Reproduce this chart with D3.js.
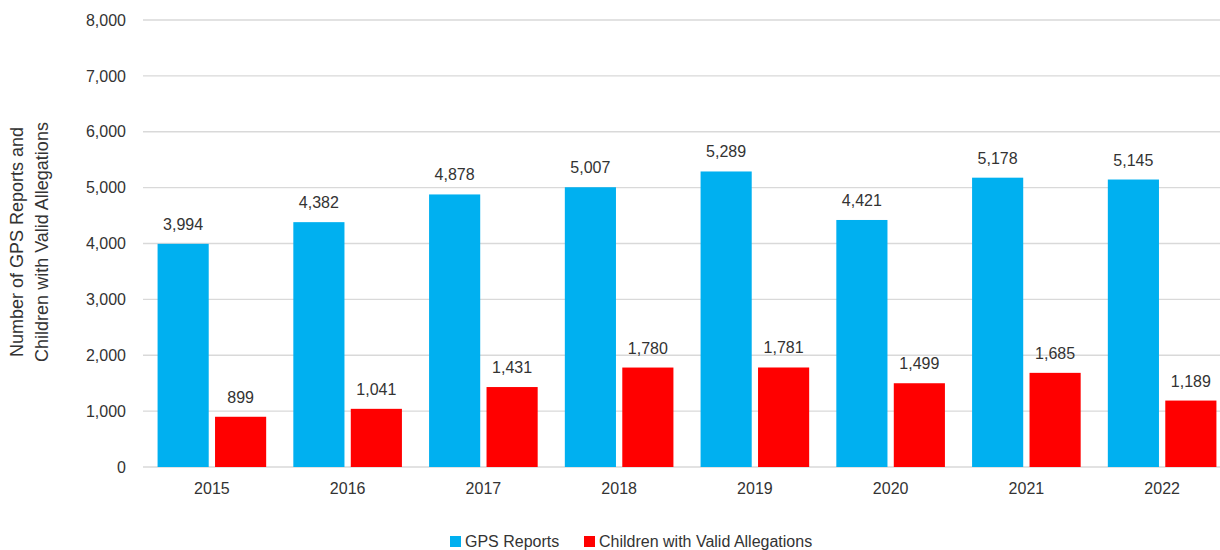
<!DOCTYPE html>
<html>
<head>
<meta charset="utf-8">
<script src="https://cdn.jsdelivr.net/npm/d3@7"></script>
<style>
  body { margin: 0; background: #fff; }
  svg text { font-family: "Liberation Sans", Arial, sans-serif; fill: #333; }
</style>
</head>
<body>
<svg width="1220" height="550"></svg>
<script>
// data
var years = ["2015", "2016", "2017", "2018", "2019", "2020", "2021", "2022"];
var gpsReports = [3994, 4382, 4878, 5007, 5289, 4421, 5178, 5145];
var validAllegations = [899, 1041, 1431, 1780, 1781, 1499, 1685, 1189];
var seriesNames = ["GPS Reports", "Children with Valid Allegations"];
var yTicks = [0, 1000, 2000, 3000, 4000, 5000, 6000, 7000, 8000];

var colors = ["#00b0f0", "#ff0000"];
var svg = d3.select("svg");
var W = 1220;

var x = d3.scaleBand()
    .domain(years)
    .range([144, 1230])
    .paddingInner(0.2)
    .paddingOuter(0.1);

var xs = d3.scaleBand()
    .domain(seriesNames)
    .range([0, x.bandwidth()])
    .paddingInner(0.11);

var y = d3.scaleLinear()
    .domain([0, 8000])
    .range([467, 20]);

var fmt = d3.format(",");

// gridlines
svg.append("g")
    .selectAll("line")
    .data(yTicks)
    .enter().append("line")
    .attr("x1", 143)
    .attr("x2", W)
    .attr("y1", function (d) { return y(d); })
    .attr("y2", function (d) { return y(d); })
    .attr("stroke", "#d9d9d9")
    .attr("stroke-width", 1.3);

// y axis labels
var yAxis = svg.append("g")
    .attr("transform", "translate(126,0)")
    .call(d3.axisLeft(y).tickValues(yTicks).tickFormat(fmt).tickSize(0).tickPadding(0));
yAxis.select(".domain").remove();
yAxis.selectAll("text").attr("font-size", 16).style("fill", "#333");

// x axis labels
var xAxis = svg.append("g")
    .attr("transform", "translate(0,467)")
    .call(d3.axisBottom(x).tickSize(0).tickPadding(16));
xAxis.select(".domain").remove();
xAxis.selectAll("text").attr("font-size", 16).style("fill", "#333");

// bars
var table = years.map(function (yr, i) {
    return { year: yr, values: [gpsReports[i], validAllegations[i]] };
});

var groups = svg.append("g")
    .selectAll("g")
    .data(table)
    .enter().append("g")
    .attr("transform", function (d) { return "translate(" + x(d.year) + ",0)"; });

groups.selectAll("rect")
    .data(function (d) { return d.values; })
    .enter().append("rect")
    .attr("x", function (d, i) { return xs(seriesNames[i]); })
    .attr("y", function (d) { return y(d); })
    .attr("width", xs.bandwidth())
    .attr("height", function (d) { return y(0) - y(d); })
    .attr("fill", function (d, i) { return colors[i]; });

groups.selectAll("text.val")
    .data(function (d) { return d.values; })
    .enter().append("text")
    .attr("class", "val")
    .attr("x", function (d, i) { return xs(seriesNames[i]) + xs.bandwidth() / 2; })
    .attr("y", function (d) { return y(d) - 14; })
    .attr("text-anchor", "middle")
    .attr("font-size", 16)
    .text(function (d) { return fmt(d); });

// y axis title
svg.append("text")
    .attr("transform", "translate(23,242) rotate(-90)")
    .attr("text-anchor", "middle")
    .attr("font-size", 18)
    .selectAll("tspan")
    .data(["Number of GPS Reports and", "Children with Valid Allegations"])
    .enter().append("tspan")
    .attr("x", 0)
    .attr("dy", function (d, i) { return i === 0 ? 0 : 25; })
    .text(function (d) { return d; });

// legend
var legendX = [450, 584];
var legend = svg.append("g")
    .selectAll("g")
    .data(seriesNames)
    .enter().append("g")
    .attr("transform", function (d, i) { return "translate(" + legendX[i] + ",536)"; });

legend.append("rect")
    .attr("width", 11)
    .attr("height", 11)
    .attr("fill", function (d, i) { return colors[i]; });

legend.append("text")
    .attr("x", 15)
    .attr("y", 10.5)
    .attr("font-size", 16)
    .text(function (d) { return d; });
</script>
</body>
</html>
